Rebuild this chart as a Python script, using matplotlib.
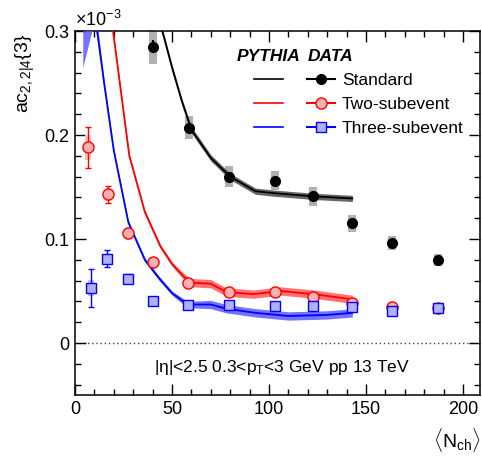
import numpy as np
import matplotlib
matplotlib.use("Agg")
import matplotlib.pyplot as plt
from matplotlib.lines import Line2D
from matplotlib.ticker import MultipleLocator

plt.rcParams['font.family'] = ['Liberation Sans', 'DejaVu Sans']
plt.rcParams['mathtext.fontset'] = 'custom'
plt.rcParams['mathtext.rm'] = 'Liberation Sans'
plt.rcParams['mathtext.it'] = 'Liberation Sans:italic'
plt.rcParams['mathtext.bf'] = 'Liberation Sans:bold'

# data points (values in units of 1e-3)
std_x = [40.2, 58.8, 79.5, 103, 122.8, 142.8, 163.4, 187]
std_y = [0.285, 0.207, 0.160, 0.156, 0.141, 0.115, 0.096, 0.080]
std_stat = [0.006, 0.004, 0.003, 0.003, 0.003, 0.003, 0.003, 0.003]
std_sys = [0.017, 0.011, 0.010, 0.009, 0.009, 0.008, 0.007, 0.006]

two_x = [6.9, 17, 27.2, 40.3, 58.4, 79.5, 103, 122.8, 142.8, 163.4, 187]
two_y = [0.188, 0.143, 0.106, 0.078, 0.058, 0.049, 0.049, 0.044, 0.038, 0.035, 0.034]
two_stat = [0.020, 0.008, 0.005, 0.003, 0.002, 0.002, 0.002, 0.002, 0.002, 0.002, 0.002]
two_sys = [0.012, 0.006, 0.005, 0.003, 0.003, 0.003, 0.003, 0.003, 0.003, 0.003, 0.003]

three_x = [8.2, 16.7, 27.2, 40.3, 58.4, 79.5, 103, 122.8, 142.8, 163.4, 187]
three_y = [0.053, 0.081, 0.062, 0.040, 0.037, 0.037, 0.036, 0.036, 0.035, 0.031, 0.034]
three_stat = [0.018, 0.008, 0.004, 0.002, 0.002, 0.002, 0.002, 0.002, 0.002, 0.002, 0.002]
three_sys = [0.008, 0.005, 0.004, 0.003, 0.003, 0.003, 0.003, 0.003, 0.003, 0.003, 0.003]

# PYTHIA curves
py_std_x = [40, 45, 50, 55, 60, 70, 80, 93, 103, 123, 143]
py_std_y = [0.34, 0.30, 0.265, 0.233, 0.205, 0.178, 0.160, 0.146, 0.144, 0.141, 0.139]
py_std_err = [0.003, 0.003, 0.003, 0.003, 0.003, 0.003, 0.003, 0.003, 0.003, 0.003, 0.003]

py_two_x = [15, 19.6, 28, 36, 44, 50, 56, 60, 70, 78, 92, 106, 123, 143]
py_two_y = [0.37, 0.30, 0.18, 0.126, 0.093, 0.076, 0.064, 0.058, 0.057, 0.049, 0.047, 0.050, 0.047, 0.042]
py_two_err = [0.002, 0.002, 0.002, 0.002, 0.002, 0.002, 0.003, 0.004, 0.004, 0.004, 0.004, 0.004, 0.004, 0.004]

py_three_x = [4, 10, 15, 20, 27.5, 36, 43, 50, 58, 70, 78, 93, 110, 130, 143]
py_three_y = [0.33, 0.32, 0.25, 0.185, 0.116, 0.080, 0.063, 0.048, 0.037, 0.037, 0.033, 0.029, 0.026, 0.027, 0.029]
py_three_err = [0.065, 0.01, 0.003, 0.002, 0.002, 0.002, 0.002, 0.002, 0.003, 0.004, 0.004, 0.004, 0.004, 0.004, 0.004]

fig = plt.figure(figsize=(4.82, 4.63), dpi=100)
ax = fig.add_axes([75/482, 1-395/463, 405/482, 364/463])

# systematic boxes
ax.bar(std_x, 2*np.array(std_sys), bottom=np.array(std_y)-np.array(std_sys), width=4,
       color='#b0b0b0', zorder=2)
ax.bar(two_x, 2*np.array(two_sys), bottom=np.array(two_y)-np.array(two_sys), width=3,
       color='#ffc0c0', zorder=2)
ax.bar(three_x, 2*np.array(three_sys), bottom=np.array(three_y)-np.array(three_sys), width=3,
       color='#c0c0ff', zorder=2)

# PYTHIA bands
for xs, ys, es, c, bc in [(py_std_x, py_std_y, py_std_err, 'black', '#404040'),
                          (py_two_x, py_two_y, py_two_err, 'red', '#ff5050'),
                          (py_three_x, py_three_y, py_three_err, 'blue', '#5050ff')]:
    ys = np.array(ys)
    es = np.array(es)
    ax.fill_between(xs, ys-es, ys+es, color=bc, lw=0, alpha=0.8, zorder=3)
    ax.plot(xs, ys, color=c, lw=1.3, zorder=3)

ax.axhline(0, color='#444444', ls=(0, (1, 2)), lw=1, zorder=1)

# data
ax.errorbar(std_x, std_y, yerr=std_stat, fmt='o', color='black', ms=7, capsize=0,
            zorder=5)
ax.errorbar(two_x, two_y, yerr=two_stat, fmt='o', color='red', mfc='#ffb0b0', mec='red',
            ms=8, mew=1, capsize=2.5, elinewidth=1, zorder=5)
ax.errorbar(three_x, three_y, yerr=three_stat, fmt='s', color='blue', mfc='#b0b0ff',
            mec='blue', ms=7, mew=1, capsize=2.5, elinewidth=1, zorder=5)

ax.set_xlim(0, 208.8)
ax.set_ylim(-0.05, 0.3)
ax.xaxis.set_major_locator(MultipleLocator(50))
ax.xaxis.set_minor_locator(MultipleLocator(10))
ax.yaxis.set_major_locator(MultipleLocator(0.1))
ax.yaxis.set_minor_locator(MultipleLocator(0.02))
ax.set_yticks([0, 0.1, 0.2, 0.3])
ax.set_yticklabels(['0', '0.1', '0.2', '0.3'])
ax.tick_params(which='both', direction='in', top=True, right=True, labelsize=13, width=1)
ax.tick_params(which='major', length=8, pad=4)
ax.tick_params(which='minor', length=4.5)
for s in ax.spines.values():
    s.set_linewidth(1.1)

ax.text(0, 1.003, r'$\times10^{-3}$', transform=ax.transAxes, fontsize=13, va='bottom', ha='left')
fig.text(25/482, 1-73/463, r'ac$_{2,2|4}${3}', rotation=90, fontsize=14, ha='center', va='center')
fig.text(481/482, 1-440/463, r'$\langle$N$_{\mathrm{ch}}$$\rangle$', fontsize=14, ha='right', va='center')
ax.text(107, -0.024, r'|η|<2.5 0.3<p$_{\mathrm{T}}$<3 GeV pp 13 TeV', fontsize=12.5,
        ha='center', va='center')

# legend
py_handles = [Line2D([], [], color='black', lw=1.2),
              Line2D([], [], color='red', lw=1.2),
              Line2D([], [], color='blue', lw=1.2)]
data_handles = [Line2D([], [], color='black', marker='o', ms=7),
                Line2D([], [], color='red', marker='o', mfc='#ffb0b0', ms=8),
                Line2D([], [], color='blue', marker='s', mfc='#b0b0ff', ms=7)]
leg1 = ax.legend(py_handles, ['', '', ''], title='PYTHIA', frameon=False,
                 loc='upper left', bbox_to_anchor=(0.36, 0.993), handlelength=1.7,
                 handletextpad=0, labelspacing=0.51, fontsize=12.5,
                 title_fontproperties={'weight': 'bold', 'style': 'italic', 'size': 12.5})
ax.add_artist(leg1)
leg2 = ax.legend(data_handles, ['Standard', 'Two-subevent', 'Three-subevent'], title='DATA',
                 frameon=False, loc='upper left', bbox_to_anchor=(0.535, 0.993),
                 handlelength=1.6, handletextpad=0.4, labelspacing=0.51, fontsize=12.5,
                 alignment='left',
                 title_fontproperties={'weight': 'bold', 'style': 'italic', 'size': 12.5})

fig.savefig('out.png', dpi=100)
